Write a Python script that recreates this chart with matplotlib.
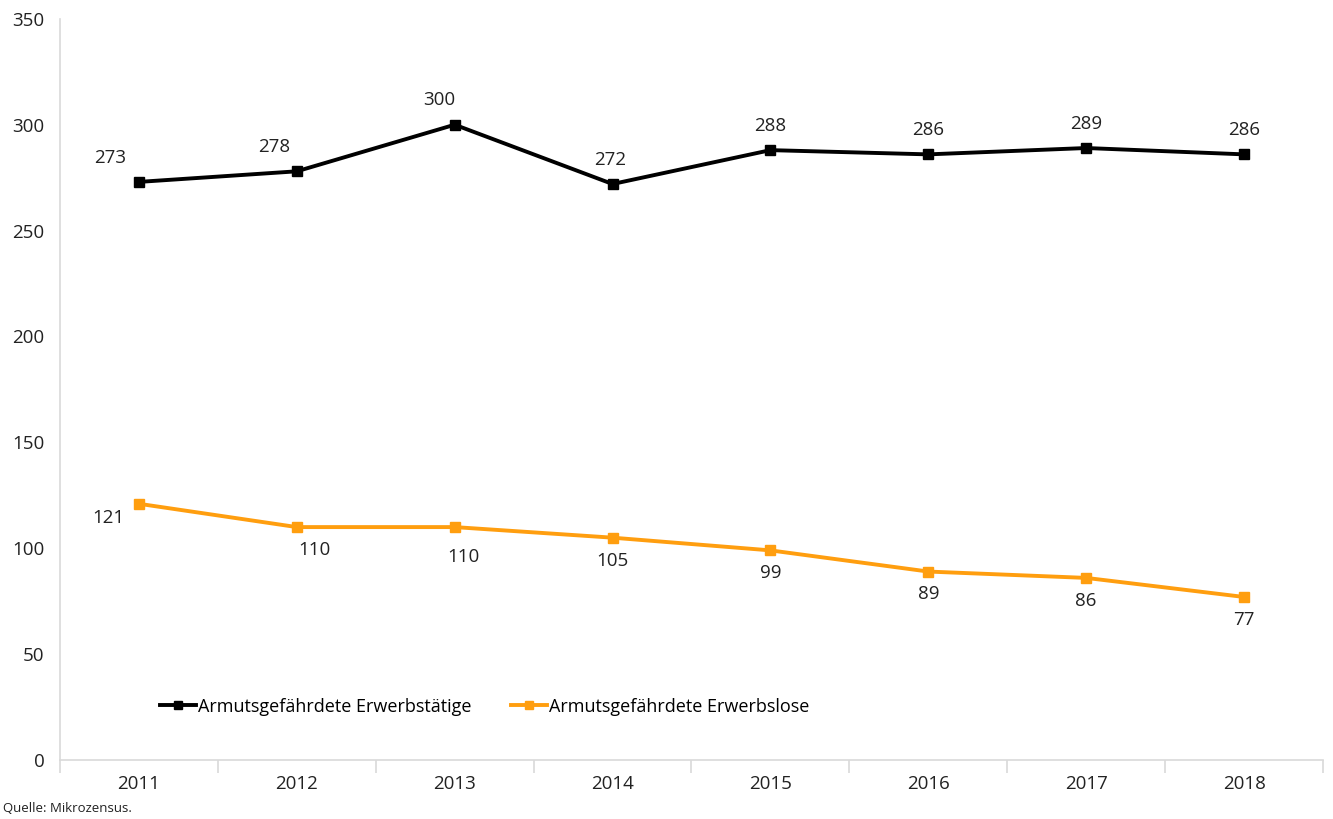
import matplotlib.pyplot as plt
import numpy as np

plt.rcParams['font.family'] = ['Open Sans', 'DejaVu Sans']

# Daten
jahre = ['2011', '2012', '2013', '2014', '2015', '2016', '2017', '2018']
erwerbstaetige = [273, 278, 300, 272, 288, 286, 289, 286]
erwerbslose = [121, 110, 110, 105, 99, 89, 86, 77]

fig = plt.figure(figsize=(13.33, 8.19), dpi=100)
ax = fig.add_axes([0.045, 0.072, 0.9475, 0.905])

x = np.arange(len(jahre))
ax.plot(x, erwerbstaetige, color='black', lw=2.8, marker='s', ms=7,
        label='Armutsgefährdete Erwerbstätige')
ax.plot(x, erwerbslose, color='#FF9E0F', lw=2.8, marker='s', ms=7,
        label='Armutsgefährdete Erwerbslose')

# Beschriftungen der Punkte
dx_oben = [-21, -16, -11, -2, 0, 0, 0, 0]
for i, v in enumerate(erwerbstaetige):
    ax.annotate(str(v), (x[i], v), xytext=(dx_oben[i], 11), textcoords='offset points',
                ha='center', va='bottom', fontsize=13.5, color='#222222')
dx_unten = [-22, 13, 6, 0, 0, 0, 0, 0]
dy_unten = [-4, -10, -15, -10, -10, -10, -10, -10]
for i, v in enumerate(erwerbslose):
    ax.annotate(str(v), (x[i], v), xytext=(dx_unten[i], dy_unten[i]), textcoords='offset points',
                ha='center', va='top', fontsize=13.5, color='#222222')

ax.set_xlim(-0.5, len(jahre) - 0.5)
ax.set_ylim(0, 350)
ax.set_yticks(range(0, 351, 50))
ax.set_xticks(x)
ax.set_xticklabels(jahre)
ax.set_xticks(np.arange(-0.5, len(jahre), 1), minor=True)
ax.tick_params(axis='x', which='major', length=0, pad=11, labelsize=13.5, colors='#222222')
ax.tick_params(axis='x', which='minor', length=9, color='#D9D9D9', width=1.2)
ax.tick_params(axis='y', length=0, pad=11, labelsize=13.5, colors='#222222')

for s in ['top', 'right']:
    ax.spines[s].set_visible(False)
ax.spines['left'].set_color('#D9D9D9')
ax.spines['bottom'].set_color('#D9D9D9')
ax.spines['left'].set_linewidth(1.2)
ax.spines['bottom'].set_linewidth(1.2)

ax.legend(loc='lower left', bbox_to_anchor=(0.066, 0.038), ncol=2, frameon=False,
          fontsize=13, handlelength=2.0, handletextpad=0.1, columnspacing=2.2,
          markerscale=0.8)

fig.text(0.002, 0.008, 'Quelle: Mikrozensus.', fontsize=9.5, color='#222222')

fig.savefig('out.png', dpi=100)
